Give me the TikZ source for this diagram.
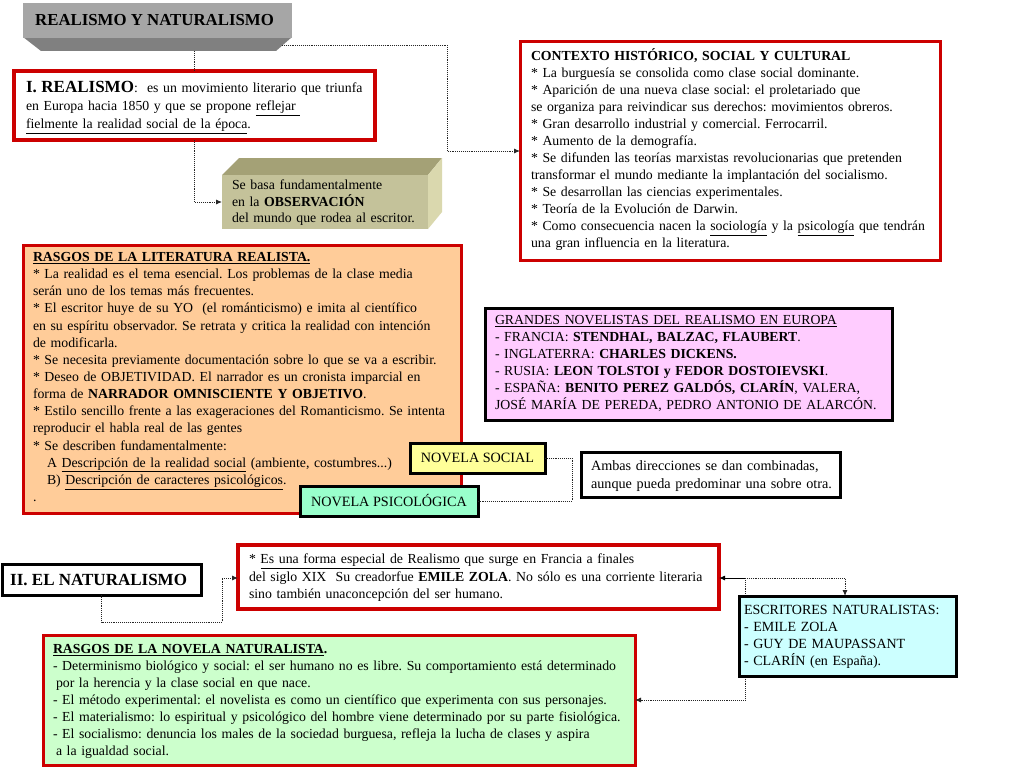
\documentclass[tikz,border=0pt]{standalone}
\usepackage{fontspec}
\setmainfont{Liberation Serif}
\frenchspacing
\usetikzlibrary{arrows.meta,calc}
\definecolor{bred}{RGB}{204,0,0}
\definecolor{peach}{RGB}{255,204,153}
\definecolor{pinkbg}{RGB}{255,204,255}
\definecolor{cyanbg}{RGB}{204,255,255}
\definecolor{greenbg}{RGB}{204,255,204}
\definecolor{yellowbg}{RGB}{255,255,153}
\definecolor{mintbg}{RGB}{153,255,204}
\definecolor{olivefront}{RGB}{196,194,154}
\definecolor{olivetop}{RGB}{164,161,118}
\definecolor{oliveside}{RGB}{218,216,174}
\definecolor{greytop}{RGB}{166,166,166}
\definecolor{greybev}{RGB}{128,128,128}
\begin{document}
\begin{tikzpicture}[x=1pt,y=-1pt,
  box/.style={anchor=north west, inner sep=0pt, outer sep=0pt},
  redbox/.style={box, draw=bred, line width=3pt},
  blkbox/.style={box, draw=black, line width=3pt},
  txt/.style={anchor=base west, inner sep=0pt, outer sep=0pt, align=left, text width=480pt, font=\fontsize{13.8}{17}\selectfont},
  ctxt/.style={inner sep=0pt, font=\fontsize{14.2}{17}\selectfont},
  dl/.style={densely dotted, line width=0.9pt, draw=black!85},
  arr/.style={-{Latex[length=6pt,width=5pt]}}
]
\useasboundingbox[fill=white] (0,0) rectangle (1024,768);

% ---------- title block ----------
\fill[greybev] (23,37) -- (292,37) -- (276,51) -- (41,51) -- cycle;
\fill[greytop] (23,3) rectangle (292,38);
\node[anchor=base west, inner sep=0pt, font=\fontsize{16.8}{18}\selectfont\bfseries] (title) at (35,25.5) {REALISMO Y NATURALISMO};

% ---------- boxes ----------
\node[redbox, line width=4pt, fill=white, minimum width=361pt, minimum height=69pt] (real) at (14,71) {};
\node[redbox, fill=white, minimum width=420pt, minimum height=218pt] (ctx) at (520,42) {};
\node[redbox, fill=peach, minimum width=438pt, minimum height=268pt] (rasg) at (23,245) {};
\node[blkbox, fill=pinkbg, minimum width=407pt, minimum height=112pt] (novl) at (485,308) {};
\node[blkbox, fill=white, minimum width=259pt, minimum height=45pt] (amb) at (581,452) {};
\node[blkbox, fill=white, minimum width=199pt, minimum height=31pt] (nat) at (2,564) {};
\node[redbox, line width=3.5pt, fill=white, minimum width=481pt, minimum height=64pt] (natd) at (238,545) {};
\node[redbox, fill=greenbg, minimum width=592pt, minimum height=130pt] (rnat) at (43,635) {};

% ---------- 3D observation box ----------
\fill[olivetop] (222,175) -- (239,158) -- (442,158) -- (428,175) -- cycle;
\fill[oliveside] (428,175) -- (442,158) -- (442,212) -- (428,229) -- cycle;
\node[box, fill=olivefront, minimum width=206pt, minimum height=54pt] (obs) at (222,175) {};

% ---------- connectors ----------
\coordinate (tA) at (194.5,51);
\draw[dl] (tA) -- (tA |- real.north);
\coordinate (tB) at (282,45);
\coordinate (cB) at (447,151);
\draw[dl, arr] (tB) -| (cB) -- (cB -| ctx.west);
\draw[dl, arr] (real.south) |- (obs.west);

\coordinate (nB) at (101.5,622);
\coordinate (nA) at (222,578);
\draw[dl, arr] (nat.south) -- (nB) -| (nA) -- (nA -| natd.west);

\coordinate (eJ) at (745,578);
\coordinate (eT) at (845,596);
\draw[line width=1pt, arr] (eJ) -- (eJ -| natd.east);
\draw[dl, arr] (eJ) -| (eT);
\draw[dl, arr] (eJ) |- (rnat.east);

\node[blkbox, fill=cyanbg, minimum width=217pt, minimum height=80pt] (esc) at (739,596) {};

% novel type boxes + bracket
\coordinate (br) at (572,458);
\node[blkbox, fill=yellowbg, minimum width=135pt, minimum height=30pt] (nsoc) at (410,443) {};
\node[blkbox, fill=mintbg, minimum width=178pt, minimum height=30pt] (npsi) at (300,486) {};
\draw[dl] (nsoc.east) -- (nsoc.east -| br) -- (npsi.east -| br) -- (npsi.east);

% ---------- texts ----------
\node[txt, font=\fontsize{13.8}{18}\selectfont] (realT) at (26,92.5) {{\fontsize{17}{18}\selectfont\bfseries I. REALISMO}:\ \ es un movimiento literario que triunfa\\
en Europa hacia 1850 y que se propone \underline{reflejar\ }\\
\underline{fielmente la realidad social de la época}.};

\node[txt] (ctxT) at (531,60.5) {\textbf{CONTEXTO HISTÓRICO, SOCIAL Y CULTURAL}\\
{}* La burguesía se consolida como clase social dominante.\\
{}* Aparición de una nueva clase social: el proletariado que\\
se organiza para reivindicar sus derechos: movimientos obreros.\\
{}* Gran desarrollo industrial y comercial. Ferrocarril.\\
{}* Aumento de la demografía.\\
{}* Se difunden las teorías marxistas revolucionarias que pretenden\\
transformar el mundo mediante la implantación del socialismo.\\
{}* Se desarrollan las ciencias experimentales.\\
{}* Teoría de la Evolución de Darwin.\\
{}* Como consecuencia nacen la \underline{sociología} y la \underline{psicología} que tendrán\\
una gran influencia en la literatura.};

\node[txt, text width=210pt, font=\fontsize{13.8}{16.5}\selectfont] (obsT) at (232,189.5) {Se basa fundamentalmente\\
en la \textbf{OBSERVACIÓN}\\
del mundo que rodea al escritor.};

\node[txt, font=\fontsize{13.8}{17.14}\selectfont] (rasgT) at (33,261.5) {\textbf{\underline{RASGOS DE LA LITERATURA REALISTA.}}\\
{}* La realidad es el tema esencial. Los problemas de la clase media\\
serán uno de los temas más frecuentes.\\
{}* El escritor huye de su YO\ \ (el románticismo) e imita al científico\\
en su espíritu observador. Se retrata y critica la realidad con intención\\
de modificarla.\\
{}* Se necesita previamente documentación sobre lo que se va a escribir.\\
{}* Deseo de OBJETIVIDAD. El narrador es un cronista imparcial en\\
forma de \textbf{NARRADOR OMNISCIENTE Y OBJETIVO}.\\
{}* Estilo sencillo frente a las exageraciones del Romanticismo. Se intenta\\
reproducir el habla real de las gentes\\
{}* Se describen fundamentalmente:\\
\hspace*{14pt}A \underline{Descripción de la realidad social} (ambiente, costumbres...)\\
\hspace*{14pt}B) \underline{Descripción de caracteres psicológicos}.\\
.};

\node[txt] (novlT) at (495,324.5) {\underline{GRANDES NOVELISTAS DEL REALISMO EN EUROPA}\\
- FRANCIA: \textbf{STENDHAL, BALZAC, FLAUBERT}.\\
- INGLATERRA: \textbf{CHARLES DICKENS.}\\
- RUSIA: \textbf{LEON TOLSTOI y FEDOR DOSTOIEVSKI}.\\
- ESPAÑA: \textbf{BENITO PEREZ GALDÓS, CLARÍN}, VALERA,\\
JOSÉ MARÍA DE PEREDA, PEDRO ANTONIO DE ALARCÓN.};

\node[ctxt] (nsocT) at (nsoc.center) {NOVELA SOCIAL};
\node[ctxt] (npsiT) at (npsi.center) {NOVELA PSICOLÓGICA};

\node[txt, text width=250pt, font=\fontsize{14.2}{18}\selectfont] (ambT) at (591,470.5) {Ambas direcciones se dan combinadas,\\
aunque pueda predominar una sobre otra.};

\node[anchor=base west, inner sep=0pt, font=\fontsize{17}{18}\selectfont\bfseries] (natT) at (10,585) {II. EL NATURALISMO};

\node[txt, font=\fontsize{13.8}{17.5}\selectfont] (natdT) at (249,563.5) {* \underline{Es una forma especial de Realismo} que surge en Francia a finales\\
del siglo XIX\ \ Su creadorfue \textbf{EMILE ZOLA}. No sólo es una corriente literaria\\
sino también unaconcepción del ser humano.};

\node[txt, text width=210pt, font=\fontsize{14}{17}\selectfont] (escT) at (744,614.5) {ESCRITORES NATURALISTAS:\\
- EMILE ZOLA\\
- GUY DE MAUPASSANT\\
- CLARÍN (en España).};

\node[txt, text width=590pt] (rnatT) at (53,653.5) {\textbf{\underline{RASGOS DE LA NOVELA NATURALISTA}.}\\
- Determinismo biológico y social: el ser humano no es libre. Su comportamiento está determinado\\
\hspace*{3pt}por la herencia y la clase social en que nace.\\
- El método experimental: el novelista es como un científico que experimenta con sus personajes.\\
- El materialismo: lo espiritual y psicológico del hombre viene determinado por su parte fisiológica.\\
- El socialismo: denuncia los males de la sociedad burguesa, refleja la lucha de clases y aspira\\
\hspace*{3pt}a la igualdad social.};
\end{tikzpicture}
\end{document}
